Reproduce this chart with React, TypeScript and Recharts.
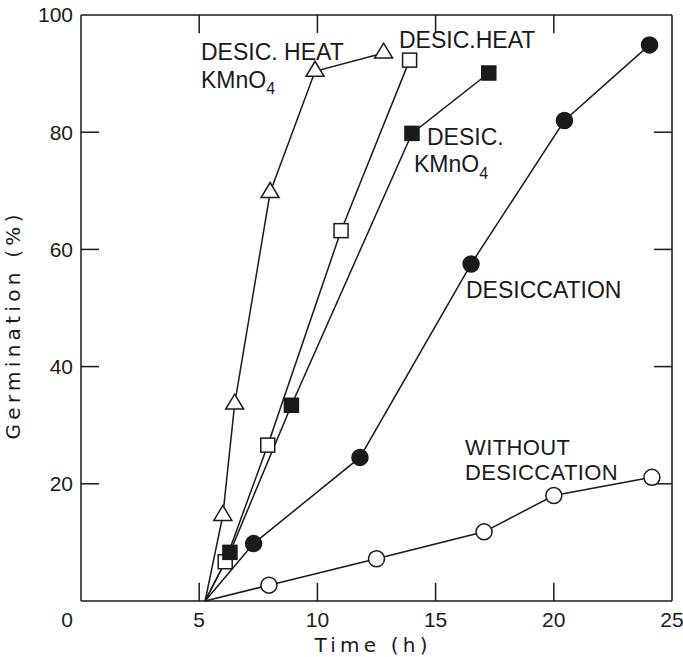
import React from "react";
import { LineChart, Line, XAxis, YAxis, ReferenceLine } from "recharts";

// all curves start from the same origin point on the time axis
const heatKmno4X = [5.25, 6.0, 6.5, 8.0, 9.9, 12.8];
const heatKmno4Y = [0, 14.6, 33.6, 69.7, 90.4, 93.5];
const heatX = [5.25, 6.1, 7.9, 11.0, 13.9];
const heatY = [0, 6.7, 26.6, 63.2, 92.3];
const kmno4X = [5.25, 6.3, 8.9, 14.0, 17.25];
const kmno4Y = [0, 8.3, 33.4, 79.8, 90.1];
const desicX = [5.25, 7.3, 11.8, 16.5, 20.45, 24.05];
const desicY = [0, 9.8, 24.5, 57.5, 82.0, 94.9];
const withoutX = [5.25, 7.95, 12.5, 17.05, 20.0, 24.15];
const withoutY = [0, 2.7, 7.2, 11.8, 18.0, 21.1];

const xTicks = [0, 5, 10, 15, 20, 25];
const yTicks = [20, 40, 60, 80, 100];
const xMarks = [5, 10, 15, 20];
const yMarks = [20, 40, 60, 80];

const X_MAX = 25;
const Y_MAX = 100;
// inward tick length (~18px) expressed in axis units
const X_TICK = 0.76;
const Y_TICK = 3.1;

const INK = "#1a1a1a";
const FONT = "'Liberation Sans', Arial, sans-serif";
const TITLE_FONT = "'DejaVu Sans', sans-serif";

const toPoints = (xs: number[], ys: number[]) => xs.map((x, i) => ({ x, y: ys[i] }));

type Shape = "triangle" | "square" | "squareFilled" | "circle" | "circleFilled";

function makeDot(shape: Shape) {
  return (props: any) => {
    const { cx, cy, index } = props;
    const key = `dot-${shape}-${index}`;
    if (index === 0 || cx == null || cy == null) return <g key={key} />;
    if (shape === "triangle") {
      const w = 9, h = 15;
      const pts = `${cx - w},${cy + h / 3} ${cx + w},${cy + h / 3} ${cx},${cy - (2 * h) / 3}`;
      return <polygon key={key} points={pts} fill="#fff" stroke={INK} strokeWidth={1.5} />;
    }
    if (shape === "square" || shape === "squareFilled") {
      const s = 14;
      return (
        <rect key={key} x={cx - s / 2} y={cy - s / 2} width={s} height={s}
          fill={shape === "squareFilled" ? INK : "#fff"} stroke={INK} strokeWidth={1.5} />
      );
    }
    return (
      <circle key={key} cx={cx} cy={cy} r={8}
        fill={shape === "circleFilled" ? INK : "#fff"} stroke={INK} strokeWidth={1.5} />
    );
  };
}

const BottomTick = ({ x, y, payload }: any) => (
  <text x={payload.value === 0 ? x - 14 : x} y={y + 26} textAnchor="middle"
    fontSize={21} fontFamily={FONT} fill={INK}>
    {payload.value}
  </text>
);

const LeftTick = ({ x, y, payload }: any) => (
  <text x={x - 8} y={y} dy="0.355em" textAnchor="end" fontSize={21} fontFamily={FONT} fill={INK}>
    {payload.value}
  </text>
);

const series: { name: string; xs: number[]; ys: number[]; shape: Shape }[] = [
  { name: "Desic. heat KMnO4", xs: heatKmno4X, ys: heatKmno4Y, shape: "triangle" },
  { name: "Desic. heat", xs: heatX, ys: heatY, shape: "square" },
  { name: "Desic. KMnO4", xs: kmno4X, ys: kmno4Y, shape: "squareFilled" },
  { name: "Desiccation", xs: desicX, ys: desicY, shape: "circleFilled" },
  { name: "Without desiccation", xs: withoutX, ys: withoutY, shape: "circle" },
];

export default function App() {
  const txt = { fontFamily: FONT, fontSize: 23, fill: INK } as const;
  const frame = { stroke: INK, strokeWidth: 1.5 };
  return (
    <div style={{ position: "absolute", left: 0, top: 0, width: 683, height: 657, background: "#fff" }}>
      <LineChart width={683} height={657} margin={{ top: 15, right: 11, bottom: 16, left: 21 }}>
        <XAxis type="number" dataKey="x" domain={[0, X_MAX]} ticks={xTicks}
          allowDuplicatedCategory={false} height={40} stroke={INK} strokeWidth={1.5}
          tickLine={false} tickSize={0} tickMargin={0} tick={<BottomTick />} interval={0} />
        <YAxis type="number" domain={[0, Y_MAX]} ticks={yTicks} width={60}
          stroke={INK} strokeWidth={1.5} tickLine={false} tickSize={0} tickMargin={0}
          tick={<LeftTick />} interval={0} />
        {/* frame top and right */}
        <ReferenceLine y={Y_MAX} {...frame} />
        <ReferenceLine x={X_MAX} {...frame} />
        {/* inward tick marks on all four sides */}
        {xMarks.map((v) => (
          <ReferenceLine key={`b${v}`} segment={[{ x: v, y: 0 }, { x: v, y: Y_TICK }]} {...frame} />
        ))}
        {xMarks.map((v) => (
          <ReferenceLine key={`t${v}`} segment={[{ x: v, y: Y_MAX }, { x: v, y: Y_MAX - Y_TICK }]} {...frame} />
        ))}
        {yMarks.map((v) => (
          <ReferenceLine key={`l${v}`} segment={[{ x: 0, y: v }, { x: X_TICK, y: v }]} {...frame} />
        ))}
        {yMarks.map((v) => (
          <ReferenceLine key={`r${v}`} segment={[{ x: X_MAX, y: v }, { x: X_MAX - X_TICK, y: v }]} {...frame} />
        ))}
        {series.map((s) => (
          <Line key={s.name} name={s.name} data={toPoints(s.xs, s.ys)} dataKey="y" type="linear"
            stroke={INK} strokeWidth={1.5} dot={makeDot(s.shape)} activeDot={false}
            isAnimationActive={false} />
        ))}
      </LineChart>
      <svg width={683} height={657} style={{ position: "absolute", left: 0, top: 0, pointerEvents: "none" }}>
        <text {...txt} x={201} y={60}>DESIC. HEAT</text>
        <text {...txt} x={201} y={88}>KMnO<tspan fontSize={16} dy={6}>4</tspan></text>
        <text {...txt} x={399} y={48}>DESIC.HEAT</text>
        <text {...txt} x={427} y={145}>DESIC.</text>
        <text {...txt} x={414} y={172}>KMnO<tspan fontSize={16} dy={7}>4</tspan></text>
        <text {...txt} x={466} y={298}>DESICCATION</text>
        <text {...txt} fontSize={22} letterSpacing={0.4} x={465} y={455}>WITHOUT</text>
        <text {...txt} fontSize={22} letterSpacing={0.4} x={465} y={480}>DESICCATION</text>
        <text x={371} y={652} textAnchor="middle" fontFamily={TITLE_FONT} fontSize={20} fill={INK}
          textLength={113} lengthAdjust="spacing">Time (h)</text>
        <text x={0} y={0} transform="translate(20,327) rotate(-90)" textAnchor="middle" fontFamily={TITLE_FONT}
          fontSize={20} fill={INK} textLength={225} lengthAdjust="spacing">Germination (%)</text>
      </svg>
    </div>
  );
}
